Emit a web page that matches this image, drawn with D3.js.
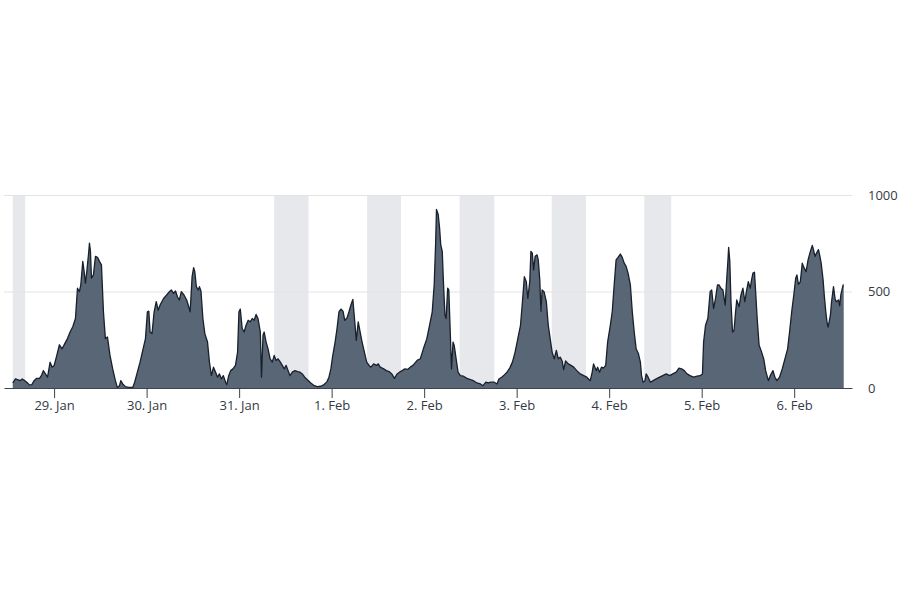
<!DOCTYPE html>
<html>
<head>
<meta charset="utf-8">
<script src="https://cdn.jsdelivr.net/npm/d3@7"></script>
<style>
  body { margin: 0; background: #fff; }
  svg { font-family: "Open Sans", sans-serif; }
  .tick text { font-family: "Open Sans", sans-serif; font-size: 13px; fill: #333a45; }
</style>
</head>
<body>
<svg width="900" height="600"></svg>
<script>
const svg = d3.select("svg");

// hours counted from 29 Jan 00:00
const sampleHours = [
  -10.73, -10.03, -9.5, -8.8, -8.3, -7.6, -7.1, -6.4, -5.8, -5.2, -4.5, -3.8, -3.3, -2.8, -2.25, -1.7, -1.04, -0.5,
  0, 0.7, 1.38, 2.08, 2.77, 3.46, 4.15, 4.84, 5.54, 6.06, 6.57, 6.92, 7.44, 7.79, 8.13, 8.48, 9.0, 9.17, 9.43, 9.69,
  10.2, 10.73, 11.25, 11.76, 12.28, 12.8, 13.3, 13.84, 14.5, 15.2, 15.9, 16.4, 16.96, 17.3, 17.8, 18.5, 19.3, 20.4,
  20.9, 21.6, 22.3, 23.0, 23.7, 24.2, 24.57, 24.9, 25.4, 25.95, 26.5, 27, 27.5, 28.4, 29.2, 29.9, 30.4, 31, 31.5, 32,
  32.5, 33.0, 33.7, 34.4, 35.3, 35.8, 36.2, 36.5, 36.9, 37.4, 37.7, 38.1, 38.6, 39.1, 39.8, 40.3, 40.8, 41.35, 41.9,
  42.4, 42.9, 43.4, 43.9, 44.5, 44.8, 45.3, 45.8, 46.4, 47.05, 47.6, 47.95, 48.3, 48.8, 49.3, 49.8, 50.35, 50.9, 51.4,
  51.9, 52.4, 52.9, 53.5, 53.8, 54.2, 54.5, 55.0, 55.5, 56.05, 56.6, 57.1, 57.6, 58.1, 58.7, 59.2, 59.7, 60.2, 60.7,
  61.2, 61.8, 62.5, 63.2, 63.8, 64.4, 65.0, 65.7, 66.6, 67.5, 68.3, 69.2, 69.9, 70.8, 71.3, 71.8, 72.3, 72.9, 73.4,
  73.9, 74.4, 74.95, 75.4, 76, 76.5, 77, 77.5, 78.0, 78.4, 78.9, 79.4, 79.9, 80.5, 81.1, 81.7, 82.2, 82.9, 83.6, 84.1,
  84.6, 85.5, 86.2, 86.9, 87.6, 88.3, 89.0, 89.6, 90.3, 91.0, 91.7, 92.4, 93.1, 93.8, 94.3, 95.0, 95.8, 96.7, 97.4,
  98.1, 98.6, 98.97, 99.2, 99.65, 100.0, 100.3, 100.7, 101.0, 101.4, 101.7, 102.1, 102.4, 102.8, 103.1, 103.5, 103.8,
  104.3, 104.8, 105.4, 106.2, 107.1, 108.0, 108.8, 109.7, 110.6, 111.3, 112.0, 112.6, 113.3, 114.2, 114.9, 115.4,
  116.1, 116.8, 117.5, 118.2, 118.9, 119.6, 120.3, 121.0, 121.5, 122.0, 122.5, 122.9, 123.4, 123.7, 124.06, 124.4,
  124.8, 125.3, 125.6, 126.0, 126.3, 126.6, 127.1, 127.7, 128.2, 128.7, 129.2, 129.75, 130.3, 130.8, 131.3, 131.8,
  132.2, 132.7, 133.4, 134.1, 134.8, 135.6, 136.5, 137.4, 138.2, 139.1, 139.6, 139.95, 140.3, 140.7, 141.0, 141.5,
  142.0, 142.5, 143.1, 143.6, 144.3, 144.8, 145.3, 145.8, 146.3, 146.9, 147.4, 147.9, 148.4, 148.9, 149.5, 150.0,
  150.5, 151.0, 151.6, 152.1, 152.4, 152.8, 153.3, 153.6, 154.1, 154.7, 155.4, 156.2, 157.1, 157.9, 158.8, 159.7,
  160.5, 161.4, 162.1, 162.8, 163.5, 164.2, 165.0, 165.9, 166.8, 167.6, 168.2, 168.5, 169.0, 169.6, 170.2, 170.6,
  171.1, 171.6, 172.1, 172.5, 173.0, 173.5, 174.1, 174.4, 174.8, 175.0, 175.3, 175.6, 176.0, 176.4, 176.8, 177.1,
  177.7, 178.2, 178.7, 179.2, 179.6, 180.1, 180.6, 180.95, 181.3, 181.7, 182.0, 182.4, 182.9, 183.4, 184.1, 184.6,
  185.3, 185.8, 186.5, 187.0, 187.5, 188.2, 188.9, 189.6, 190.3, 190.8, 191.4, 191.9, 192.4, 192.7, 193.1, 193.6,
  194.1, 194.6, 195.1, 195.6, 196.2, 196.7, 197.0, 197.4, 197.8, 198.3, 198.6, 199.0, 199.5, 199.8, 200.2, 200.5,
  200.8, 201.4, 201.7, 202.2, 202.6, 202.9, 203.5, 203.8, 204.1, 204.7, 204.85
];

const sampleValues = [
  26, 47, 43, 38, 47, 38, 30, 16, 17, 38, 50, 50, 64, 90, 73, 56, 134, 108,
  116, 169, 224, 203, 230, 256, 290, 317, 360, 517, 499, 534, 656, 603, 543, 603, 708, 751, 708, 569,
  586, 682, 677, 656, 638, 395, 256, 264, 169, 99, 38, 3, 12, 38, 21, 7, 3, 3,
  30, 82, 134, 195, 256, 395, 398, 290, 282, 395, 447, 403, 430, 464, 482, 499, 508, 490, 503, 473,
  456, 499, 482, 456, 395, 577, 624, 603, 525, 508, 525, 503, 360, 282, 238, 134, 64, 108, 82,
  56, 73, 47, 64, 30, 17, 64, 90, 99, 117, 186, 395, 409, 308, 290, 325, 351, 343, 360,
  351, 381, 360, 290, 56, 273, 290, 238, 203, 151, 134, 169, 143, 151, 134, 117, 99, 117, 90,
  64, 82, 90, 85, 82, 73, 56, 43, 26, 12, 7, 9, 16, 33, 56, 99, 169, 238, 308,
  395, 409, 398, 351, 363, 395, 430, 459, 343, 247, 343, 290, 238, 186, 134, 117, 108, 125, 117, 125,
  108, 99, 90, 85, 73, 50, 73, 82, 90, 99, 96, 108, 117, 134, 145, 151, 203, 256, 325,
  395, 534, 743, 925, 899, 830, 743, 708, 551, 377, 360, 517, 508, 273, 99, 238, 221,
  151, 82, 64, 61, 50, 43, 38, 26, 21, 12, 30, 26, 30, 30, 21, 47,
  56, 68, 82, 103, 134, 186, 256, 325, 447, 577, 551, 464, 551, 708, 699, 612,
  682, 690, 664, 560, 398, 508, 499, 447, 325, 256, 186, 151, 195, 151, 160, 140,
  95, 140, 125, 117, 108, 90, 73, 64, 56, 38, 82, 125, 108, 90, 108, 82,
  108, 103, 117, 238, 325, 395, 534, 664, 677, 694, 677, 647, 630, 595, 534, 395,
  290, 203, 177, 134, 64, 30, 38, 73, 56, 30, 38, 47, 56, 64, 73, 64,
  73, 82, 103, 99, 90, 73, 64, 56, 61, 64, 73, 238, 325, 360, 499, 508,
  412, 464, 534, 534, 517, 508, 430, 534, 656, 729, 656, 447, 290, 299, 395, 456,
  421, 482, 517, 447, 499, 551, 517, 560, 595, 600, 499, 360, 221, 195, 151, 90,
  38, 64, 90, 56, 38, 56, 99, 151, 203, 290, 403, 482, 569, 586, 537, 551,
  647, 621, 603, 664, 708, 739, 717, 682, 699, 717, 690, 647, 560, 482, 395, 343,
  316, 377, 447, 525, 464, 447, 456, 426, 482, 534, 534
];

// shaded periods (hours from 29 Jan 00:00)
const bandStarts = [-10.73, 57.1, 81.2, 105.2, 129.1, 153.1];
const bandEnds = [-7.5, 66.0, 90.0, 114.2, 138.0, 160.1];

const yTicks = [0, 500, 1000];
const dayTicks = ["2019-01-29", "2019-01-30", "2019-01-31", "2019-02-01", "2019-02-02",
                  "2019-02-03", "2019-02-04", "2019-02-05", "2019-02-06"];

const start = new Date(2019, 0, 29);
const toDate = h => new Date(start.getTime() + h * 3600e3);

const data = sampleHours.map((h, i) => ({ t: toDate(h), v: sampleValues[i] }));

const plotLeft = 4, plotRight = 852, plotTop = 195, plotBottom = 388;

const x = d3.scaleTime()
    .domain([toDate(-13), toDate(207)])
    .range([plotLeft, plotRight]);

const y = d3.scaleLinear()
    .domain([0, 1000])
    .range([plotBottom, plotTop]);

// bands
svg.append("g").selectAll("rect")
    .data(bandStarts)
    .enter().append("rect")
    .attr("x", d => x(toDate(d)))
    .attr("width", (d, i) => x(toDate(bandEnds[i])) - x(toDate(d)))
    .attr("y", plotTop)
    .attr("height", plotBottom - plotTop)
    .attr("fill", "#e6e8eb");

// gridlines
svg.append("g").selectAll("line")
    .data(yTicks.filter(d => d > 0))
    .enter().append("line")
    .attr("x1", plotLeft)
    .attr("x2", plotRight)
    .attr("y1", d => y(d) + 0.5)
    .attr("y2", d => y(d) + 0.5)
    .attr("stroke", "#e3e3e3");

const area = d3.area()
    .x(d => x(d.t))
    .y0(y(0))
    .y1(d => y(d.v));

const line = d3.line()
    .x(d => x(d.t))
    .y(d => y(d.v));

svg.append("path")
    .datum(data)
    .attr("d", area)
    .attr("fill", "#596676");

svg.append("path")
    .datum(data)
    .attr("d", line)
    .attr("fill", "none")
    .attr("stroke", "#18202c")
    .attr("stroke-width", 1.3)
    .attr("stroke-linejoin", "round");

// x axis
const xAxis = d3.axisBottom(x)
    .tickValues(dayTicks.map(d => d3.timeParse("%Y-%m-%d")(d)))
    .tickFormat(d3.timeFormat("%-d. %b"))
    .tickSize(10)
    .tickPadding(3)
    .tickSizeOuter(0);

const xg = svg.append("g")
    .attr("transform", "translate(0," + plotBottom + ")")
    .call(xAxis)
    .attr("font-family", null)
    .attr("font-size", null);
xg.select(".domain").attr("stroke", "#3d434c");
xg.selectAll(".tick line").attr("stroke", "#3d434c");

// y labels on the right
svg.append("g").selectAll("text")
    .data(yTicks)
    .enter().append("text")
    .attr("x", 868)
    .attr("y", d => y(d))
    .attr("dy", "0.35em")
    .attr("font-size", 13)
    .attr("fill", "#333a45")
    .text(d => d);
</script>
</body>
</html>
